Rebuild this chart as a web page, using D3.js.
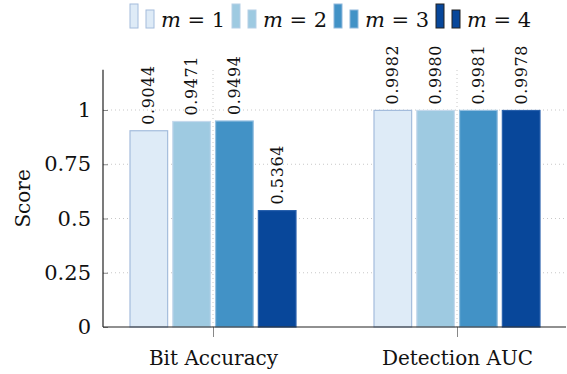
<!DOCTYPE html>
<html>
<head>
<meta charset="utf-8">
<script src="https://cdn.jsdelivr.net/npm/d3@7"></script>
<style>
  body { margin: 0; background: #fff; }
  svg text { font-family: 'DejaVu Serif', 'Liberation Serif', 'Times New Roman', serif; fill: #111; }
</style>
</head>
<body>
<svg id="chart"></svg>
<script>
// data
const categories = ["Bit Accuracy", "Detection AUC"];
const seriesNames = ["m = 1", "m = 2", "m = 3", "m = 4"];
const scores = [
  [0.9044, 0.9471, 0.9494, 0.5364],   // Bit Accuracy
  [0.9982, 0.9980, 0.9981, 0.9978]    // Detection AUC
];
const yTicks = [0, 0.25, 0.5, 0.75, 1];
const yTickLabels = ["0", "0.25", "0.5", "0.75", "1"];

const fills = ["#deebf7", "#9ecae1", "#4292c6", "#08479a"];
const strokes = ["#a4bcdc", "#c4d9ec", "#94bfe0", "#2a62ad"];
const legendStrokes = ["#a4bcdc", "#b5cfe6", "#8fb8dc", "#222"];

const serif = "'DejaVu Serif', 'Liberation Serif', serif";

const width = 567, height = 374;
const marginLeft = 103, marginBottom = 47;
const plotRight = 566;
const y0 = height - marginBottom;

const svg = d3.select('#chart')
  .attr('width', width)
  .attr('height', height);

const y = d3.scaleLinear().domain([0, 1]).range([y0, 110]);
const yMax = 1.185;

const x = d3.scalePoint().domain(categories).range([213, 457]);
const xSub = d3.scaleBand().domain(d3.range(seriesNames.length))
  .range([-83, 83]).paddingInner(0.12).paddingOuter(0);

/** GRID */
const grid = svg.append('g');
grid.selectAll('line.h')
  .data(yTicks.filter(d => d > 0))
  .join('line')
  .attr('x1', marginLeft).attr('x2', plotRight)
  .attr('y1', d => y(d)).attr('y2', d => y(d))
  .style('stroke', '#c8c8c8').style('stroke-dasharray', '1,3');
grid.selectAll('line.v')
  .data(categories)
  .join('line')
  .attr('x1', d => x(d)).attr('x2', d => x(d))
  .attr('y1', y0).attr('y2', y(yMax))
  .style('stroke', '#c8c8c8').style('stroke-dasharray', '1,3');

/** BARS */
const groups = svg.append('g').selectAll('g')
  .data(categories)
  .join('g')
  .attr('transform', d => `translate(${x(d)},0)`);

groups.selectAll('rect')
  .data((d, i) => scores[i].map((v, j) => ({ v: v, j: j })))
  .join('rect')
  .attr('x', d => xSub(d.j))
  .attr('width', xSub.bandwidth())
  .attr('y', d => y(d.v))
  .attr('height', d => y0 - y(d.v))
  .style('fill', d => fills[d.j])
  .style('stroke', d => strokes[d.j])
  .style('stroke-width', 1.2);

groups.selectAll('text')
  .data((d, i) => scores[i].map((v, j) => ({ v: v, j: j })))
  .join('text')
  .attr('transform', d => `translate(${xSub(d.j) + xSub.bandwidth() / 2},${y(d.v) - 6}) rotate(-90)`)
  .attr('dy', '0.35em')
  .style('font-family', serif)
  .style('font-size', '16px')
  .style('letter-spacing', '0.6px')
  .text(d => d.v.toFixed(4));

/** AXES */
const yAxis = svg.append('g').attr('transform', `translate(${marginLeft},0)`)
  .call(d3.axisLeft(y).tickValues(yTicks).tickSize(-5).tickPadding(12)
    .tickFormat((d, i) => yTickLabels[i]));
yAxis.attr('font-family', null);
yAxis.select('.domain').remove();
yAxis.selectAll('.tick line').style('stroke', '#888');
yAxis.selectAll('.tick text').style('font-size', '21px')
  .style('font-family', serif);
yAxis.append('line')
  .attr('x1', 0).attr('x2', 0)
  .attr('y1', y0).attr('y2', y(yMax))
  .style('stroke', '#222').style('stroke-width', 1.2);

const xAxis = svg.append('g').attr('transform', `translate(0,${y0})`)
  .call(d3.axisBottom(x).tickSize(10).tickPadding(10));
xAxis.attr('font-family', null);
xAxis.select('.domain').remove();
xAxis.selectAll('.tick line').style('stroke', '#888');
xAxis.selectAll('.tick text').style('font-size', '20px')
  .style('font-family', serif)
  .attr('dy', '0.9em');
xAxis.append('line')
  .attr('x1', marginLeft).attr('x2', plotRight)
  .attr('y1', 0).attr('y2', 0)
  .style('stroke', '#222').style('stroke-width', 1.2);

svg.append('text')
  .attr('transform', `translate(30,${(y0 + y(yMax)) / 2}) rotate(-90)`)
  .attr('text-anchor', 'middle')
  .style('font-family', serif)
  .style('font-size', '20px')
  .text('Score');

/** LEGEND */
const legend = svg.append('g');
const items = legend.selectAll('g')
  .data(seriesNames)
  .join('g')
  .attr('transform', (d, i) => `translate(${130 + i * 102},0)`);
items.append('rect')
  .attr('x', 0).attr('y', 4).attr('width', 8).attr('height', 24)
  .style('fill', (d, i) => fills[i]).style('stroke', (d, i) => legendStrokes[i]);
items.append('rect')
  .attr('x', 16).attr('y', 10).attr('width', 8).attr('height', 18)
  .style('fill', (d, i) => fills[i]).style('stroke', (d, i) => legendStrokes[i]);
const lt = items.append('text')
  .attr('x', 31).attr('y', 27)
  .style('font-family', serif)
  .style('font-size', '21px');
lt.append('tspan').style('font-style', 'italic').text('m');
lt.append('tspan').text(d => ' = ' + d.split('= ')[1]);
</script>
</body>
</html>
